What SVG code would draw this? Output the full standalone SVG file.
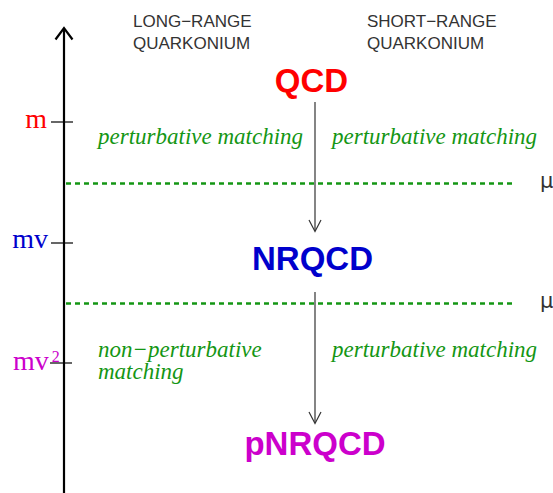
<svg xmlns="http://www.w3.org/2000/svg" width="553" height="493" viewBox="0 0 553 493">
<style>
.hdr{font-family:"Liberation Sans",Arial,sans-serif;font-size:17px;fill:#333}
.big{font-family:"Liberation Sans",Arial,sans-serif;font-size:33px;font-weight:bold;text-anchor:middle}
.scale{font-family:"Liberation Serif","Times New Roman",serif;font-size:28px;text-anchor:end}
.match{font-family:"Liberation Serif","Times New Roman",serif;font-size:23px;font-style:italic;fill:#149614}
.mu{font-family:"DejaVu Sans",sans-serif;font-size:21px;fill:#333}
.dash{stroke:#149614;stroke-width:2.5;stroke-dasharray:5 4;fill:none}
.tick{stroke:#000;stroke-width:1.2}
.arr{stroke:#333;stroke-width:1.2;fill:none}
</style>
<rect width="553" height="493" fill="#fff"/>
<g id="axis">
<line x1="64" y1="29" x2="64" y2="493" stroke="#000" stroke-width="2.2"/>
<polyline points="55.5,39.5 64,28 72.5,39.5" fill="none" stroke="#000" stroke-width="2.2"/>
<line class="tick" x1="51" y1="122" x2="73" y2="122"/>
<line class="tick" x1="51" y1="243" x2="73" y2="243"/>
<line class="tick" x1="50" y1="363" x2="72" y2="363"/>
<text class="scale" x="47" y="128" fill="#ff0000">m</text>
<text class="scale" x="48" y="248" fill="#0000cc">mv</text>
<text x="13" y="370" font-family="Liberation Serif,serif" font-size="28" fill="#cc00cc">mv<tspan dx="3" dy="-8" font-size="16">2</tspan></text>
</g>
<g id="headers">
<text class="hdr" x="133" y="27">LONG−RANGE</text>
<text class="hdr" x="133" y="49">QUARKONIUM</text>
<text class="hdr" x="367" y="27">SHORT−RANGE</text>
<text class="hdr" x="367" y="49">QUARKONIUM</text>
</g>
<g id="qcd"><text class="big" x="311.5" y="92" fill="#ff0000">QCD</text></g>
<g id="nrqcd"><text class="big" x="312.5" y="270" fill="#0000cc">NRQCD</text></g>
<g id="pnrqcd"><text class="big" x="315" y="455" fill="#cc00cc">pNRQCD</text></g>
<g id="scales">
<line class="dash" x1="66" y1="183.5" x2="515" y2="183.5"/>
<line class="dash" x1="66" y1="303.5" x2="515" y2="303.5"/>
<text class="mu" x="540" y="188">μ</text>
<text class="mu" x="540" y="308">μ′</text>
</g>
<g id="labels">
<text class="match" x="98" y="144">perturbative matching</text>
<text class="match" x="332" y="144">perturbative matching</text>
<text class="match" x="98" y="357">non−perturbative<tspan x="98" dy="22">matching</tspan></text>
<text class="match" x="332" y="357">perturbative matching</text>
</g>
<g id="connectors">
<line class="arr" x1="315" y1="102" x2="315" y2="231"/>
<polyline class="arr" points="309,220 315,231.5 321,220"/>
<line class="arr" x1="315" y1="292" x2="315" y2="423"/>
<polyline class="arr" points="309,412 315,423.5 321,412"/>
</g>
</svg>
